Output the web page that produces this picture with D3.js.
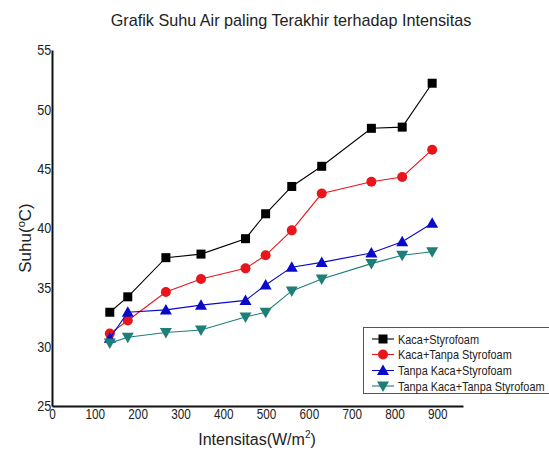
<!DOCTYPE html>
<html>
<head>
<meta charset="utf-8">
<script src="https://cdn.jsdelivr.net/npm/d3@7"></script>
<style>
  body { margin: 0; background: #fff; }
  svg { display: block; }
  .tick text { font-family: "Liberation Sans", Arial, sans-serif; }
</style>
</head>
<body>
<div id="chart"></div>
<script>
// data
const intensitas = [135, 177, 266, 348, 452, 499, 560, 630, 746, 818, 888];
const kacaStyro = [32.9, 34.2, 37.5, 37.8, 39.1, 41.2, 43.5, 45.2, 48.4, 48.5, 52.2];
const kacaTanpaStyro = [31.1, 32.2, 34.6, 35.7, 36.6, 37.7, 39.8, 42.9, 43.9, 44.3, 46.6];
const tanpaKacaStyro = [30.7, 32.9, 33.1, 33.5, 33.9, 35.2, 36.7, 37.1, 37.9, 38.85, 40.4];
const tanpaKacaTanpaStyro = [30.3, 30.8, 31.2, 31.4, 32.5, 32.9, 34.7, 35.7, 37.0, 37.7, 38.0];
const xTicks = [0, 100, 200, 300, 400, 500, 600, 700, 800, 900];
const yTicks = [25, 30, 35, 40, 45, 50, 55];

const SERIES = [
    {name: "Kaca+Styrofoam", values: kacaStyro, color: "#000000", marker: "square"},
    {name: "Kaca+Tanpa Styrofoam", values: kacaTanpaStyro, color: "#e8161b", marker: "circle"},
    {name: "Tanpa Kaca+Styrofoam", values: tanpaKacaStyro, color: "#0a0ac8", marker: "triangle"},
    {name: "Tanpa Kaca+Tanpa Styrofoam", values: tanpaKacaTanpaStyro, color: "#1d7f78", marker: "triangleDown"}
];

const WIDTH = 549, HEIGHT = 452;
const NARROW = 0.84; // the original uses a condensed face, squeeze it horizontally

const svg = d3.select("#chart")
    .append("svg")
        .attr("width", WIDTH)
        .attr("height", HEIGHT);

const x = d3.scaleLinear().domain([0, 960]).range([52, 463]);
const y = d3.scaleLinear().domain([25, 55]).range([406, 50]);

// title
svg.append("text")
    .attr("x", 291)
    .attr("y", 26)
    .attr("text-anchor", "middle")
    .style("font-family", "Liberation Sans, Arial, sans-serif")
    .style("font-size", "16.2px")
    .style("fill", "#222")
    .text("Grafik Suhu Air paling Terakhir terhadap Intensitas");

// axes
const xAxis = svg.append("g")
    .attr("transform", `translate(0,${y(25)})`)
    .call(d3.axisBottom(x).tickValues(xTicks).tickSize(0).tickPadding(3).tickFormat(d3.format("d")));

const yAxis = svg.append("g")
    .attr("transform", `translate(${x(0)},0)`)
    .call(d3.axisLeft(y).tickValues(yTicks).tickSize(0).tickPadding(1).tickFormat(d3.format("d")));

[xAxis, yAxis].forEach(g => {
    g.select(".domain").attr("stroke", "#111").attr("stroke-width", 2);
    g.selectAll(".tick text")
        .style("fill", "#222")
        .attr("transform", `scale(${NARROW},1)`);
});
xAxis.selectAll(".tick text").style("font-size", "14px");
yAxis.selectAll(".tick text").style("font-size", "15px");

// axis titles
const suhu = svg.append("text")
    .attr("transform", "translate(31,238) rotate(-90)")
    .attr("text-anchor", "middle")
    .style("font-family", "Liberation Sans, Arial, sans-serif")
    .style("font-size", "17px")
    .style("fill", "#222");
suhu.append("tspan").text("Suhu(");
suhu.append("tspan").attr("dy", -6).style("font-size", "11px").text("o");
suhu.append("tspan").attr("dy", 6).text("C)");

const inten = svg.append("text")
    .attr("x", 257)
    .attr("y", 445)
    .attr("text-anchor", "middle")
    .style("font-family", "Liberation Sans, Arial, sans-serif")
    .style("font-size", "16px")
    .style("fill", "#222");
inten.append("tspan").text("Intensitas(W/m");
inten.append("tspan").attr("dy", -7).style("font-size", "10px").text("2");
inten.append("tspan").attr("dy", 7).text(")");

// marker shapes
function drawMarker(g, type, color) {
    if (type === "square") {
        g.append("rect").attr("x", -4.5).attr("y", -4.5).attr("width", 9).attr("height", 9).attr("fill", color);
    } else if (type === "circle") {
        g.append("circle").attr("r", 5).attr("fill", color);
    } else if (type === "triangle") {
        g.append("path").attr("d", "M0,-6L6,4.5L-6,4.5Z").attr("fill", color);
    } else {
        g.append("path").attr("d", "M0,6L6,-4.5L-6,-4.5Z").attr("fill", color);
    }
}

const line = d3.line()
    .x((d, i) => x(intensitas[i]))
    .y(d => y(d));

SERIES.forEach(s => {
    svg.append("path")
        .datum(s.values)
        .attr("d", line)
        .attr("fill", "none")
        .attr("stroke", s.color)
        .attr("stroke-width", 1.1);

    s.values.forEach((v, i) => {
        let g = svg.append("g").attr("transform", `translate(${x(intensitas[i])},${y(v)})`);
        drawMarker(g, s.marker, s.color);
    });
});

// legend
const legend = svg.append("g");
legend.append("rect")
    .attr("x", 363.5)
    .attr("y", 327.5)
    .attr("width", 200)
    .attr("height", 66)
    .attr("fill", "#fff")
    .attr("stroke", "#555")
    .attr("stroke-width", 1);

const rowY = [339, 354.5, 370.5, 386];
SERIES.forEach((s, i) => {
    legend.append("line")
        .attr("x1", 372).attr("x2", 394)
        .attr("y1", rowY[i]).attr("y2", rowY[i])
        .attr("stroke", s.color)
        .attr("stroke-width", 1.1);
    let g = legend.append("g").attr("transform", `translate(383,${rowY[i]})`);
    drawMarker(g, s.marker, s.color);
    legend.append("text")
        .attr("transform", `translate(398,${rowY[i]}) scale(${NARROW},1)`)
        .attr("dy", "0.35em")
        .style("font-family", "Liberation Sans, Arial, sans-serif")
        .style("font-size", "13px")
        .style("fill", "#222")
        .text(s.name);
});
</script>
</body>
</html>
